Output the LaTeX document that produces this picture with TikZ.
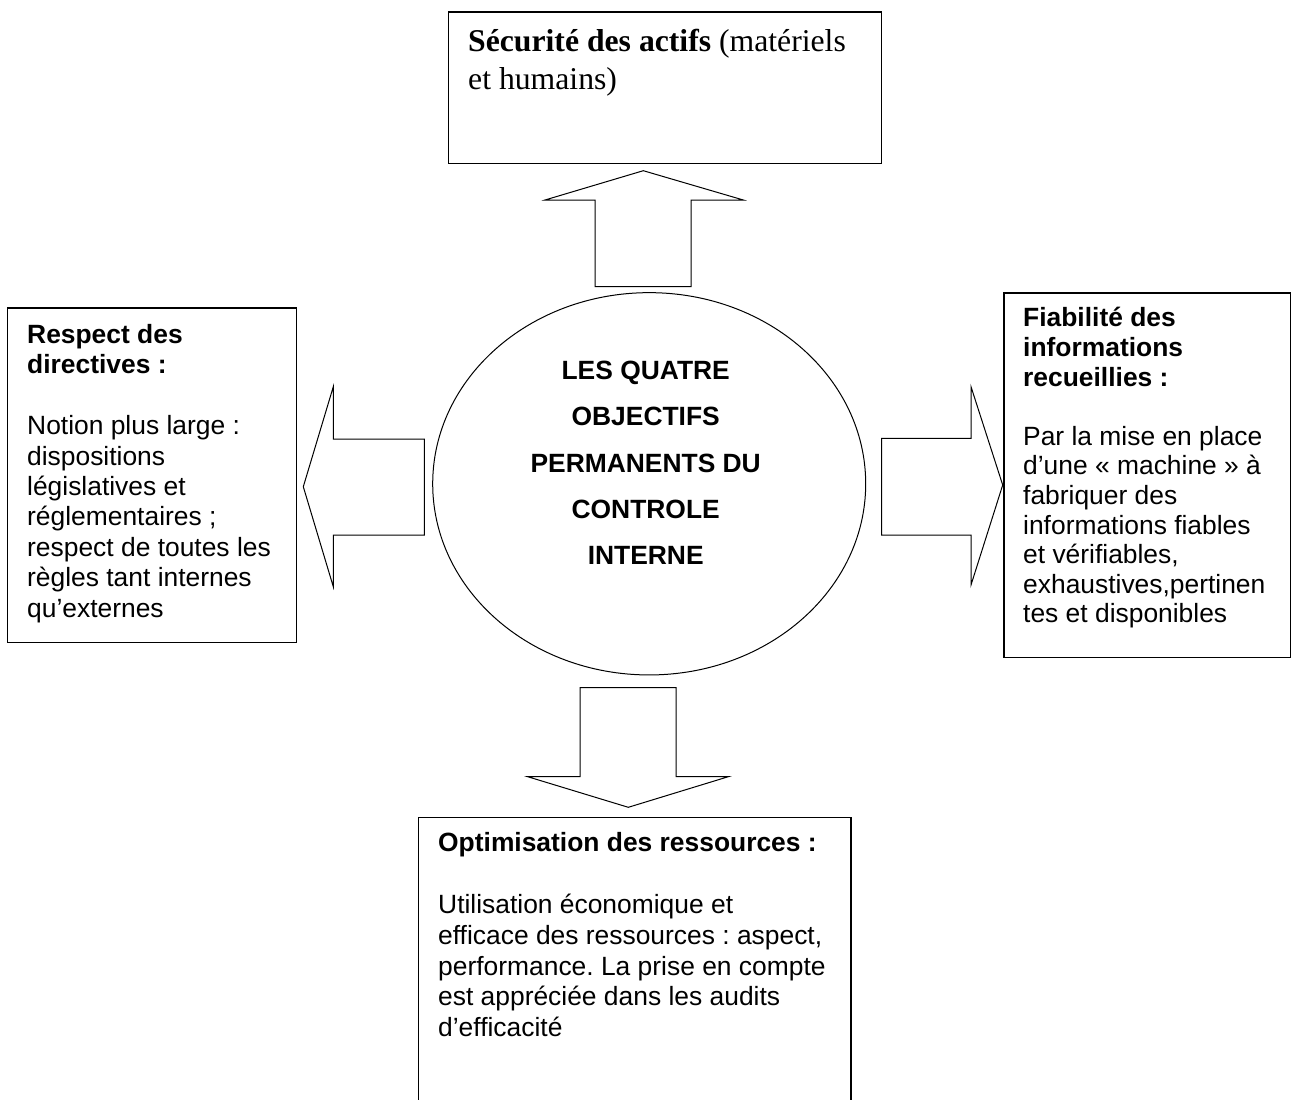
\documentclass[tikz,border=0pt]{standalone}
\usepackage{fontspec}
\setmainfont{Liberation Sans}
\newfontfamily\timesf{Liberation Serif}
\usetikzlibrary{shapes.geometric}
\frenchspacing
\tikzset{
  box/.style={draw, line width=1.5pt, rectangle, inner sep=0pt, anchor=north west},
  txt/.style={anchor=north west, inner sep=0pt, align=left},
  blockarrow/.style={draw, line width=1pt, line join=miter},
}
\begin{document}
\begin{tikzpicture}[x=1pt,y=-1pt]
\useasboundingbox (0,0) rectangle (1291,1100);
\fill[white] (0,0) rectangle (1291,1100);

% boxes
\node[box, minimum width=433pt, minimum height=151.7pt] (secbox) at (447.7,11) {};
\node[box, minimum width=289pt, minimum height=334.4pt] (respbox) at (6.7,307.3) {};
\node[box, minimum width=286.7pt, minimum height=364.4pt] (fiabbox) at (1003.3,292.3) {};
\node[box, minimum width=432.3pt, minimum height=300pt] (optbox) at (417.7,816.7) {};

% central ellipse
\node[draw, ellipse, line width=1pt, minimum width=433pt, minimum height=382.3pt, inner sep=0pt] (core) at (649.2,483.8) {};
\node[anchor=north, inner sep=0pt, align=center, font=\bfseries\fontsize{26.4}{46.25}\selectfont] (coretxt) at (645.7,347.1)
  {\strut LES QUATRE\\ OBJECTIFS\\ PERMANENTS DU\\ CONTROLE\\ INTERNE};

% texts
\node[txt, font=\timesf\fontsize{31.7}{37.7}\selectfont] (sectxt) at (468,25.3)
  {\strut\textbf{Sécurité des actifs} (matériels\\ et humains)};
\node[txt, font=\fontsize{26.4}{30.4}\selectfont] (resptxt) at (27,322)
  {\strut\textbf{Respect des}\\ \textbf{directives :}\\ \strut\\ Notion plus large :\\ dispositions\\ législatives et\\ réglementaires ;\\ respect de toutes les\\ règles tant internes\\ qu’externes};
\node[txt, font=\fontsize{26.4}{29.6}\selectfont] (fiabtxt) at (1023,306)
  {\strut\textbf{Fiabilité des}\\ \textbf{informations}\\ \textbf{recueillies :}\\ \strut\\ Par la mise en place\\ d’une « machine » à\\ fabriquer des\\ informations fiables\\ et vérifiables,\\ exhaustives,pertinen\\ tes et disponibles};
\node[txt, font=\fontsize{26.4}{30.8}\selectfont] (opttxt) at (438,830.1)
  {\strut\textbf{Optimisation des ressources :}\\ \strut\\ Utilisation économique et\\ efficace des ressources : aspect,\\ performance. La prise en compte\\ est appréciée dans les audits\\ d’efficacité};

% block arrows
\draw[blockarrow] (595,286.7) -- (595,200) -- (545,200) -- (643.3,170.7) -- (743.3,200) -- (691,200) -- (691,286.7) -- cycle;
\draw[blockarrow] (424.3,439) -- (333.3,439) -- (333.3,386.7) -- (303.3,486.7) -- (333.3,586.7) -- (333.3,535) -- (424.3,535) -- cycle;
\draw[blockarrow] (881.7,438.3) -- (971,438.3) -- (971,386.7) -- (1002.7,485) -- (971,585) -- (971,535) -- (881.7,535) -- cycle;
\draw[blockarrow] (580,687.7) -- (676,687.7) -- (676,776.7) -- (728.3,776.7) -- (628.3,807.3) -- (527.7,776.7) -- (580,776.7) -- cycle;
\end{tikzpicture}
\end{document}
